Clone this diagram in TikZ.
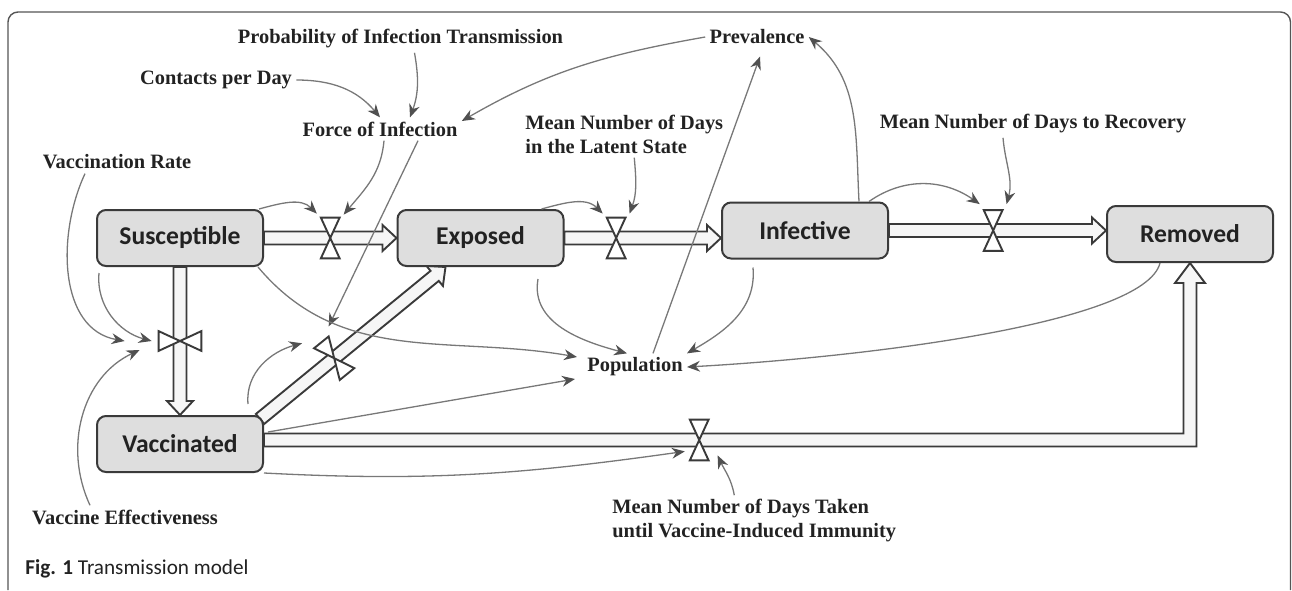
\documentclass[tikz,border=0pt]{standalone}
\usepackage{fontspec}
\setmainfont{Liberation Serif}
\newfontfamily\calib{Carlito}
\usetikzlibrary{calc,arrows.meta}
\definecolor{boxfill}{HTML}{DEDEDE}
\definecolor{boxline}{HTML}{3A3A3A}
\definecolor{linkc}{HTML}{787878}
\definecolor{tipc}{HTML}{505050}
\definecolor{pipefill}{HTML}{F6F6F6}
\definecolor{txt}{HTML}{222222}
\definecolor{framec}{HTML}{555555}
\pgfdeclarelayer{bg}
\pgfsetlayers{bg,main}
\tikzset{
 stock/.style={draw=boxline, fill=boxfill, line width=1pt, rounded corners=4.5pt, minimum width=83pt, minimum height=28pt, inner sep=0pt, font=\calib\bfseries\fontsize{12.8}{14}\selectfont, text=txt},
 lbl/.style={font=\bfseries\fontsize{10.2}{12}\selectfont, text=txt, inner sep=2pt},
 pipe/.style={draw=boxline, fill=pipefill, line width=0.95pt, line join=miter},
 valvebox/.style={inner sep=0pt, minimum width=9pt, minimum height=20pt},
 valve/.style={draw=boxline, fill=white, line width=0.95pt, line join=miter},
 link/.style={draw=linkc, line width=0.65pt, -{Stealth[length=6.5pt,width=5.4pt,color=tipc]}},
 frame/.style={draw=framec, line width=0.7pt, rounded corners=5pt},
}
\newcommand\flowpipe[2]{%
 \coordinate (pA) at (#1); \coordinate (pB) at (#2);
 \coordinate (pH) at ($(pB)!7pt!(pA)$);
 \filldraw[pipe] ($(pA)!3.25pt!90:(pB)$) -- ($(pH)!3.25pt!90:(pB)$) -- ($(pH)!6.5pt!90:(pB)$) -- (pB) -- ($(pH)!6.5pt!-90:(pB)$) -- ($(pH)!3.25pt!-90:(pB)$) -- ($(pA)!3.25pt!-90:(pB)$) -- cycle;}
\begin{document}
\begin{tikzpicture}[x=0.5pt,y=0.5pt]
\useasboundingbox (0,0) rectangle (1292,-590);
\draw[frame] (8,-590) -- (8,-12) -- (1290.5,-12) -- (1290.5,-590);

% stocks
\node[stock] (S) at (180,-238) {Susceptible};
\node[stock] (E) at (480.5,-238) {Exposed};
\node[stock] (I) at (805,-230.5) {Infective};
\node[stock] (R) at (1190,-234) {Removed};
\node[stock] (V) at (180,-444) {Vaccinated};

% labels
\node[lbl] (prob) at (400.5,-39) {Probability of Infection Transmission};
\node[lbl] (contacts) at (216,-80) {Contacts per Day};
\node[lbl] (force) at (380,-129) {Force of Infection};
\node[lbl] (vrate) at (117,-162) {Vaccination Rate};
\node[lbl] (prev) at (757,-37) {Prevalence};
\node[lbl, anchor=west, align=left] (latent) at (521,-134) {Mean Number of Days\\in the Latent State};
\node[lbl] (recov) at (1033,-124) {Mean Number of Days to Recovery};
\node[lbl] (pop) at (635,-367) {Population};
\node[lbl] (veff) at (125,-517) {Vaccine Effectiveness};
\node[lbl, anchor=west, align=left] (taken) at (608,-521) {Mean Number of Days Taken\\until Vaccine-Induced Immunity};
\node[anchor=west, inner sep=0pt, font=\calib\fontsize{10.6}{12}\selectfont, text=txt] (fig) at (25,-569) {\textbf{Fig. 1} Transmission model};

% pipes and valves
\coordinate (vs) at ([shift={(-4,-4)}]V.north east);
\coordinate (ve) at ([xshift=24.5pt]E.south west);
\coordinate (vout) at ([yshift=2pt]V.east);
\coordinate (corner) at (vout -| R.south);
\begin{pgfonlayer}{bg}
\flowpipe{S.east}{E.west}
\flowpipe{E.east}{I.west |- E.east}
\flowpipe{I.east}{R.west |- I.east}
\flowpipe{S.south}{V.north}
\flowpipe{vs}{ve}
\filldraw[pipe] ($(vout)+(0,6.5)$) -- ($(corner)+(-6.5,6.5)$) -- ($(R.south)+(-6.5,-20)$) -- ($(R.south)+(-15,-20)$) -- (R.south) -- ($(R.south)+(15,-20)$) -- ($(R.south)+(6.5,-20)$) -- ($(corner)+(6.5,-6.5)$) -- ($(vout)+(0,-6.5)$) -- cycle;
\node[valvebox] (vSE) at ($(S.east)!0.5!(E.west)$) {};
\node[valvebox] (vEI) at ($(E.east)!0.33!(I.west |- E.east)$) {};
\node[valvebox] (vIR) at ($(I.east)!0.48!(R.west |- I.east)$) {};
\node[valvebox, minimum width=21pt, minimum height=9.5pt] (vSV) at ($(S.south)!0.5!(V.north)$) {};
\node[valvebox, rotate=39] (vVE) at ($(vs)!0.4!(ve)$) {};
\node[valvebox] (vVR) at ($(vout)!0.47!(corner)$) {};
\foreach \v in {vSE,vEI,vIR,vVE,vVR}
  \draw[valve] (\v.north west) -- (\v.north east) -- (\v.south west) -- (\v.south east) -- cycle;
\draw[valve] (vSV.north west) -- (vSV.south west) -- (vSV.north east) -- (vSV.south east) -- cycle;
\end{pgfonlayer}

% information links
\draw[link] (contacts.east) to[out=0,in=130] (force.north);
\draw[link] ([xshift=7pt]prob.south) to[out=-80,in=70] ([xshift=15pt]force.north);
\draw[link] (prev.west) to[out=190,in=30] ([yshift=4pt]force.east);
\draw[link] ([xshift=2pt]force.south) to[out=-95,in=50] ([shift={(2pt,1.5pt)}]vSE.north east);
\draw[link] ([xshift=19pt]force.south) -- ([yshift=5pt]vVE.north east);
\draw[link] ([xshift=-2.5pt]S.north east) to[out=15,in=135] ([shift={(-2pt,2pt)}]vSE.north west);
\draw[link] ([xshift=-11.5pt]E.north east) to[out=15,in=135] ([shift={(-2pt,2pt)}]vEI.north west);
\draw[link] ([xshift=5pt]latent.south) to[out=-85,in=70] ([shift={(2pt,2pt)}]vEI.north east);
\draw[link] ([xshift=-10pt]I.north east) to[out=35,in=145] ([shift={(-2pt,3pt)}]vIR.north west);
\draw[link] ([xshift=-15pt]recov.south) to[out=-85,in=75] ([shift={(2pt,3pt)}]vIR.north east);
\draw[link] ([xshift=-15pt]I.north east) to[out=93,in=-40] (prev.east);
\draw[link] ([xshift=9pt]pop.north) -- ([shift={(1.5pt,-4pt)}]prev.south);
\draw[link] ([shift={(28.75pt,-6pt)}]E.south) to[out=-100,in=165] ([xshift=-4pt]pop.north);
\draw[link] ([shift={(-26pt,-4pt)}]I.south) to[out=-85,in=30] (pop.north east);
\draw[link] ([xshift=-3pt]S.south east) to[out=-50,in=170] ([shift={(-3pt,5pt)}]pop.west);
\draw[link] ([shift={(2pt,6pt)}]V.east) -- ([shift={(-4pt,-6pt)}]pop.west);
\draw[link] ([xshift=-15pt]R.south) .. controls +(-15,-60) and +(180,10) .. (pop.east);
\draw[link] (V.south east) to[out=-3,in=188] ([shift={(-2.5pt,4.5pt)}]vVR.south west);
\draw[link] ([xshift=-10pt]taken.north) to[out=100,in=-65] ([shift={(4.5pt,2.5pt)}]vVR.south east);
\draw[link] ([shift={(-8pt,5.5pt)}]V.north east) to[out=95,in=195] ([shift={(-6pt,2.5pt)}]vVE.north west);
\draw[link] ([xshift=-16pt]vrate.south) to[out=-115,in=170] ([xshift=-17pt]vSV.west);
\draw[link] ([shift={(1.5pt,-3pt)}]S.south west) to[out=-95,in=165] ([xshift=-3.5pt]vSV.west);
\draw[link] ([xshift=-17.5pt]veff.north) to[out=115,in=205] ([shift={(-9.5pt,-4.5pt)}]vSV.west);
\end{tikzpicture}
\end{document}
